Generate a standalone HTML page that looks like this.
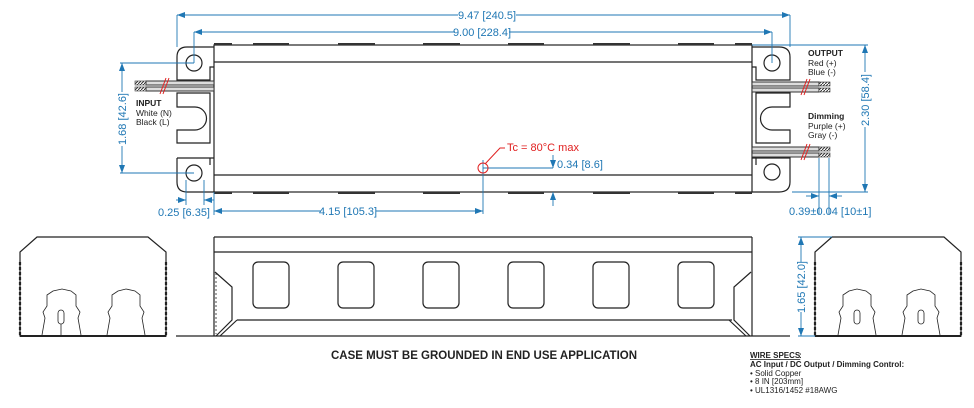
<!DOCTYPE html>
<html><head><meta charset="utf-8"><style>
html,body{margin:0;padding:0;background:#fff;}
svg{display:block;font-family:"Liberation Sans",Arial,sans-serif;}
.k{stroke:#222;fill:none;stroke-width:1.2}
.kt{stroke:#222;fill:none;stroke-width:0.8}
.b{stroke:#1f77b4;fill:none;stroke-width:0.9}
.bt{fill:#1f77b4;font-size:11px;font-family:"Liberation Sans Narrow","Liberation Sans",sans-serif}
.r{stroke:#e02020;fill:none;stroke-width:1}
.lb{font-size:8.5px;fill:#222}
</style></head><body>
<svg width="974" height="408" viewBox="0 0 974 408" xmlns="http://www.w3.org/2000/svg">
<defs>
<marker id="a" markerWidth="8" markerHeight="6" refX="8" refY="3" orient="auto" markerUnits="userSpaceOnUse"><path d="M0,0 L8,3 L0,6 z" fill="#1f77b4"/></marker>
<pattern id="h" width="3" height="3" patternUnits="userSpaceOnUse"><rect width="3" height="3" fill="#fff"/><path d="M0,3 L3,0" stroke="#333" stroke-width="1"/></pattern>
</defs>

<!-- body -->
<rect x="214" y="45" width="538" height="147" class="k"/>
<line x1="214" y1="62" x2="752" y2="62" class="k"/>
<line x1="214" y1="175" x2="752" y2="175" class="k"/>
<g fill="#333">
<rect x="214" y="43" width="18" height="2"/><rect x="253" y="43" width="36" height="2"/><rect x="338" y="43" width="37" height="2"/><rect x="423" y="43" width="37" height="2"/><rect x="508" y="43" width="36" height="2"/><rect x="593" y="43" width="37" height="2"/><rect x="678" y="43" width="36" height="2"/><rect x="735" y="43" width="17" height="2"/>
<rect x="214" y="192" width="18" height="2"/><rect x="253" y="192" width="36" height="2"/><rect x="338" y="192" width="37" height="2"/><rect x="423" y="192" width="37" height="2"/><rect x="508" y="192" width="36" height="2"/><rect x="593" y="192" width="37" height="2"/><rect x="678" y="192" width="36" height="2"/><rect x="735" y="192" width="17" height="2"/>
</g>

<!-- left bracket -->
<path d="M214,47 L187,47 Q177,47 177,57 L177,80 L210,80 L210,67 L214,67" class="k"/>
<path d="M177,93 L210,93 L210,143 L177,143 L177,130 L195,130 A11.5,11.5 0 0 0 195,107 L177,107 Z" class="k"/>
<path d="M214,158 L210,158 L210,165 M177,158 L210,158 M177,158 L177,182 Q177,192 187,192 L214,192" class="k"/>
<circle cx="194" cy="63" r="8" class="k"/>
<circle cx="194" cy="173" r="8" class="k"/>
<rect x="146" y="81" width="68" height="4" fill="#ddd" stroke="#333" stroke-width="1"/>
<rect x="146" y="87" width="68" height="4" fill="#ddd" stroke="#333" stroke-width="1"/>
<rect x="135" y="81" width="11" height="4" fill="url(#h)" stroke="#333" stroke-width="0.6"/>
<rect x="135" y="87" width="11" height="4" fill="url(#h)" stroke="#333" stroke-width="0.6"/>
<path d="M160,94 L166,78 M163,94 L169,78" class="r"/>

<!-- right bracket -->
<path d="M752,47 L779,47 Q790,47 790,57 L790,80 L756,80 L756,67 L752,67" class="k"/>
<path d="M790,93 L756,93 L756,143 L790,143 L790,130 L772,130 A11.5,11.5 0 0 1 772,107 L790,107 Z" class="k"/>
<path d="M752,158 L790,158 L790,182 Q790,192 779,192 L752,192 M756,158 L756,165" class="k"/>
<circle cx="772" cy="63" r="8" class="k"/>
<circle cx="772" cy="172" r="8" class="k"/>
<rect x="752" y="82" width="67" height="4" fill="#ddd" stroke="#333" stroke-width="1"/>
<rect x="752" y="88" width="67" height="4" fill="#ddd" stroke="#333" stroke-width="1"/>
<rect x="819" y="82" width="11" height="4" fill="url(#h)" stroke="#333" stroke-width="0.6"/>
<rect x="819" y="88" width="11" height="4" fill="url(#h)" stroke="#333" stroke-width="0.6"/>
<path d="M801,95 L807,79 M804,95 L810,79" class="r"/>
<rect x="752" y="147" width="67" height="4" fill="#ddd" stroke="#333" stroke-width="1"/>
<rect x="752" y="153" width="67" height="4" fill="#ddd" stroke="#333" stroke-width="1"/>
<rect x="819" y="147" width="11" height="4" fill="url(#h)" stroke="#333" stroke-width="0.6"/>
<rect x="819" y="153" width="11" height="4" fill="url(#h)" stroke="#333" stroke-width="0.6"/>
<path d="M801,160 L807,144 M804,160 L810,144" class="r"/>

<!-- labels -->
<text x="136" y="106" class="lb" font-weight="bold">INPUT</text>
<text x="136" y="116" class="lb">White (N)</text>
<text x="136" y="125" class="lb">Black (L)</text>
<text x="808" y="56" class="lb" font-weight="bold">OUTPUT</text>
<text x="808" y="66" class="lb">Red (+)</text>
<text x="808" y="75" class="lb">Blue (-)</text>
<text x="808" y="119" class="lb" font-weight="bold">Dimming</text>
<text x="808" y="129" class="lb">Purple (+)</text>
<text x="808" y="138" class="lb">Gray (-)</text>

<!-- dims top -->
<line x1="177" y1="15" x2="177" y2="47" class="b"/>
<line x1="790" y1="15" x2="790" y2="47" class="b"/>
<line x1="194" y1="32" x2="194" y2="63" class="b"/>
<line x1="772" y1="32" x2="772" y2="63" class="b"/>
<line x1="458" y1="15" x2="177" y2="15" class="b" marker-end="url(#a)"/>
<line x1="516" y1="15" x2="790" y2="15" class="b" marker-end="url(#a)"/>
<text x="487" y="19" class="bt" text-anchor="middle">9.47 [240.5]</text>
<line x1="455" y1="32" x2="194" y2="32" class="b" marker-end="url(#a)"/>
<line x1="509" y1="32" x2="772" y2="32" class="b" marker-end="url(#a)"/>
<text x="482" y="36" class="bt" text-anchor="middle">9.00 [228.4]</text>

<line x1="120" y1="63" x2="194" y2="63" class="b"/>
<line x1="120" y1="173" x2="194" y2="173" class="b"/>
<line x1="122" y1="92" x2="122" y2="63" class="b" marker-end="url(#a)"/>
<line x1="122" y1="146" x2="122" y2="173" class="b" marker-end="url(#a)"/>
<text transform="translate(126,119) rotate(-90)" class="bt" text-anchor="middle">1.68 [42.6]</text>

<line x1="752" y1="45" x2="868" y2="45" class="b"/>
<line x1="792" y1="192" x2="868" y2="192" class="b"/>
<line x1="865" y1="72" x2="865" y2="45" class="b" marker-end="url(#a)"/>
<line x1="865" y1="127" x2="865" y2="192" class="b" marker-end="url(#a)"/>
<text transform="translate(869,100) rotate(-90)" class="bt" text-anchor="middle">2.30 [58.4]</text>

<line x1="186" y1="180" x2="186" y2="205" class="b"/>
<line x1="204" y1="180" x2="204" y2="205" class="b"/>
<line x1="176" y1="200" x2="186" y2="200" class="b" marker-end="url(#a)"/>
<line x1="214" y1="200" x2="204" y2="200" class="b" marker-end="url(#a)"/>
<text x="158" y="216" class="bt">0.25 [6.35]</text>
<line x1="214" y1="192" x2="214" y2="215" class="b"/>
<line x1="321" y1="211" x2="214" y2="211" class="b" marker-end="url(#a)"/>
<line x1="376" y1="211" x2="483" y2="211" class="b" marker-end="url(#a)"/>
<text x="348" y="215" class="bt" text-anchor="middle">4.15 [105.3]</text>
<line x1="483" y1="160" x2="483" y2="214" class="b"/>
<line x1="483" y1="168" x2="553" y2="168" class="b"/>
<line x1="553" y1="155" x2="553" y2="168" class="b" marker-end="url(#a)"/>
<line x1="553" y1="206" x2="553" y2="192" class="b" marker-end="url(#a)"/>
<text x="557" y="168" class="bt">0.34 [8.6]</text>
<circle cx="483" cy="168" r="5" class="r"/>
<path d="M485,164 L500,148 L505,148" class="r"/>
<text x="507" y="151" fill="#e02020" font-size="11" font-family="Liberation Sans Narrow,Liberation Sans,sans-serif">Tc = 80°C max</text>
<line x1="819" y1="158" x2="819" y2="214" class="b"/>
<line x1="829" y1="158" x2="829" y2="214" class="b"/>
<line x1="806" y1="196" x2="819" y2="196" class="b" marker-end="url(#a)"/>
<line x1="842" y1="196" x2="829" y2="196" class="b" marker-end="url(#a)"/>
<text x="789" y="215" class="bt">0.39±0.04 [10±1]</text>

<!-- left end view -->
<g>
<path d="M20,336 L20,252 L37,237 L148,237 L166,252 L166,336 Z" class="k"/>
<line x1="20" y1="262" x2="20" y2="336" stroke="#222" stroke-width="2.2" stroke-dasharray="3,2"/>
<line x1="166" y1="262" x2="166" y2="336" stroke="#222" stroke-width="2.2" stroke-dasharray="3,2"/>
<line x1="20" y1="336" x2="166" y2="336" stroke="#222" stroke-width="2"/>
<path d="M42,335 L45,318 L43,312 L47,306 L47,295 L53,291 L62,289 L71,291 L76,295 L76,306 L80,312 L78,318 L81,335" class="kt"/>
<rect x="58" y="310" width="6" height="14" rx="3" class="kt"/>
<line x1="61" y1="324" x2="61" y2="336" class="kt"/>
<path d="M107,335 L110,318 L108,312 L112,306 L112,295 L118,291 L126,289 L135,291 L140,295 L140,306 L144,312 L142,318 L145,335" class="kt"/>
</g>

<!-- middle side view -->
<g>
<line x1="214" y1="237" x2="752" y2="237" class="k" stroke-width="1.6"/>
<line x1="214" y1="252" x2="752" y2="252" class="k"/>
<line x1="214" y1="237" x2="214" y2="336" class="k"/>
<line x1="752" y1="237" x2="752" y2="336" class="k"/>
<line x1="176" y1="336" x2="214" y2="336" class="k"/>
<line x1="752" y1="336" x2="790" y2="336" class="k"/>
<line x1="214" y1="336" x2="752" y2="336" class="k"/>
<line x1="237" y1="320" x2="732" y2="320" class="k"/>
<path d="M215,272 L232,287 L232,320 L216,336 M237,320 L220,336" class="k"/>
<path d="M751,272 L734,287 L734,320 L750,336 M729,320 L746,336" class="k"/>
<line x1="216" y1="273" x2="216" y2="334" stroke="#222" stroke-width="0.8" stroke-dasharray="2,2"/>
<rect x="253" y="262" width="36" height="46" rx="5" class="k"/>
<rect x="338" y="262" width="36" height="46" rx="5" class="k"/>
<rect x="423" y="262" width="36" height="46" rx="5" class="k"/>
<rect x="508" y="262" width="36" height="46" rx="5" class="k"/>
<rect x="593" y="262" width="36" height="46" rx="5" class="k"/>
<rect x="678" y="262" width="36" height="46" rx="5" class="k"/>
</g>

<!-- right end view -->
<g>
<path d="M815,336 L815,252 L832,237 L944,237 L961,252 L961,336 Z" class="k"/>
<line x1="815" y1="262" x2="815" y2="336" stroke="#222" stroke-width="2.2" stroke-dasharray="3,2"/>
<line x1="961" y1="262" x2="961" y2="336" stroke="#222" stroke-width="2.2" stroke-dasharray="3,2"/>
<line x1="815" y1="336" x2="961" y2="336" stroke="#222" stroke-width="2"/>
<path d="M838,335 L841,318 L839,312 L843,306 L843,295 L849,291 L857,289 L866,291 L871,295 L871,306 L875,312 L873,318 L876,335" class="kt"/>
<rect x="854" y="310" width="6" height="14" rx="3" class="kt"/>
<path d="M902,335 L905,318 L903,312 L907,306 L907,295 L913,291 L921,289 L930,291 L935,295 L935,306 L939,312 L937,318 L940,335" class="kt"/>
<rect x="918" y="310" width="6" height="14" rx="3" class="kt"/>
</g>
<line x1="798" y1="237" x2="832" y2="237" class="b"/>
<line x1="798" y1="336" x2="815" y2="336" class="b"/>
<line x1="801" y1="262" x2="801" y2="237" class="b" marker-end="url(#a)"/>
<line x1="801" y1="312" x2="801" y2="336" class="b" marker-end="url(#a)"/>
<text transform="translate(805,287) rotate(-90)" class="bt" text-anchor="middle">1.65 [42.0]</text>

<text x="484" y="359" text-anchor="middle" font-size="11.5" font-weight="bold" fill="#222">CASE MUST BE GROUNDED IN END USE APPLICATION</text>
<text x="750" y="358" font-size="8" font-weight="bold" fill="#222" text-decoration="underline">WIRE SPECS</text><text x="799" y="358" font-size="8" font-weight="bold" fill="#222">:</text>
<text x="750" y="367" font-size="8" font-weight="bold" fill="#222">AC Input / DC Output / Dimming Control:</text>
<text x="750" y="376" font-size="8" fill="#222">• Solid Copper</text>
<text x="750" y="384" font-size="8" fill="#222">• 8 IN [203mm]</text>
<text x="750" y="393" font-size="8" fill="#222">• UL1316/1452 #18AWG</text>
</svg>
</body></html>
